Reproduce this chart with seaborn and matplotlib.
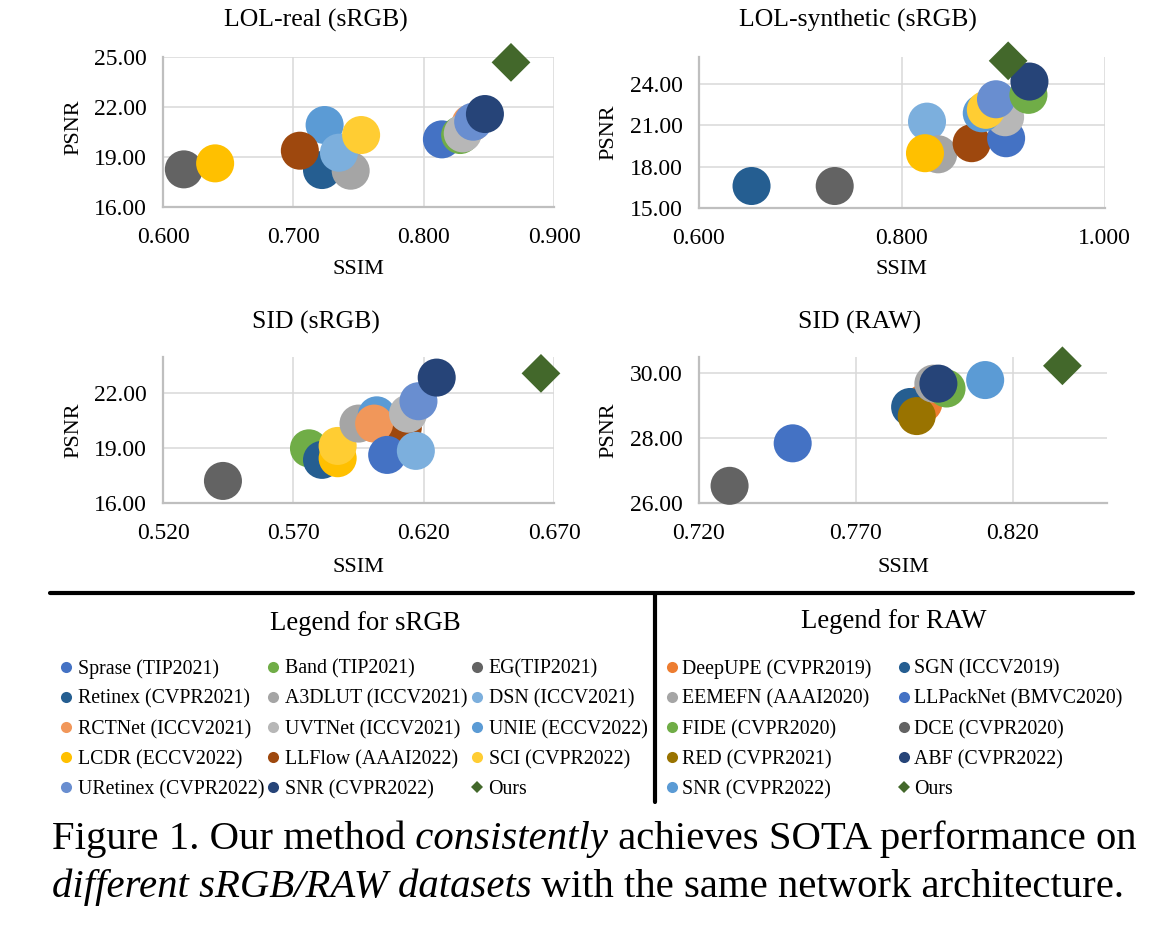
import matplotlib
matplotlib.use('Agg')
import matplotlib.pyplot as plt
from matplotlib.lines import Line2D
from matplotlib.ticker import FormatStrFormatter
import seaborn as sns
import pandas as pd

# ---- legend definitions ----
srgb_methods = ['Sprase', 'Band', 'EG', 'Retinex', 'A3DLUT', 'DSN', 'RCTNet', 'UVTNet',
                'UNIE', 'LCDR', 'LLFlow', 'SCI', 'URetinex', 'SNR', 'Ours']
srgb_labels = ['Sprase (TIP2021)', 'Band (TIP2021)', 'EG(TIP2021)', 'Retinex (CVPR2021)',
               'A3DLUT (ICCV2021)', 'DSN (ICCV2021)', 'RCTNet (ICCV2021)', 'UVTNet (ICCV2021)',
               'UNIE (ECCV2022)', 'LCDR (ECCV2022)', 'LLFlow (AAAI2022)', 'SCI (CVPR2022)',
               'URetinex (CVPR2022)', 'SNR (CVPR2022)', 'Ours']
srgb_colors = ['#4472C4', '#70AD47', '#636363', '#255E91', '#A5A5A5', '#7CAFDD', '#F1975A',
               '#B7B7B7', '#5B9BD5', '#FFC000', '#9E480E', '#FFCD33', '#698ED0', '#264478',
               '#43682B']

raw_methods = ['DeepUPE', 'SGN', 'EEMEFN', 'LLPackNet', 'FIDE', 'DCE', 'RED', 'ABF', 'SNR', 'Ours']
raw_labels = ['DeepUPE (CVPR2019)', 'SGN (ICCV2019)', 'EEMEFN (AAAI2020)', 'LLPackNet (BMVC2020)',
              'FIDE (CVPR2020)', 'DCE (CVPR2020)', 'RED (CVPR2021)', 'ABF (CVPR2022)',
              'SNR (CVPR2022)', 'Ours']
raw_colors = ['#ED7D31', '#255E91', '#A5A5A5', '#4472C4', '#70AD47', '#636363', '#997300',
              '#264478', '#5B9BD5', '#43682B']

# ---- panel data (listed in drawing order) ----
lol_real_method = ['EG', 'LCDR', 'UNIE', 'Retinex', 'LLFlow', 'A3DLUT', 'DSN', 'SCI', 'Sprase',
                   'Band', 'RCTNet', 'UVTNet', 'URetinex', 'SNR', 'Ours']
lol_real_ssim = [0.616, 0.640, 0.724, 0.722, 0.705, 0.744, 0.735, 0.752, 0.814,
                 0.828, 0.836, 0.830, 0.838, 0.847, 0.867]
lol_real_psnr = [18.24, 18.60, 20.90, 18.20, 19.36, 18.16, 19.24, 20.30, 20.04,
                 20.30, 21.00, 20.40, 21.10, 21.56, 24.66]

lol_syn_method = ['Retinex', 'EG', 'DSN', 'A3DLUT', 'LCDR', 'LLFlow', 'Sprase', 'UVTNet', 'UNIE',
                  'SCI', 'URetinex', 'Band', 'SNR', 'Ours']
lol_syn_ssim = [0.652, 0.734, 0.825, 0.836, 0.823, 0.869, 0.903, 0.902, 0.879,
                0.883, 0.893, 0.925, 0.926, 0.905]
lol_syn_psnr = [16.58, 16.58, 21.27, 18.89, 18.97, 19.70, 20.06, 21.59, 21.88,
                22.13, 22.90, 23.22, 24.19, 25.70]

sid_srgb_method = ['EG', 'Band', 'Retinex', 'LCDR', 'SCI', 'LLFlow', 'A3DLUT', 'UNIE', 'RCTNet',
                   'Sprase', 'UVTNet', 'DSN', 'URetinex', 'SNR', 'Ours']
sid_srgb_ssim = [0.543, 0.576, 0.581, 0.587, 0.587, 0.612, 0.595, 0.602, 0.601,
                 0.606, 0.614, 0.617, 0.618, 0.625, 0.665]
sid_srgb_psnr = [17.22, 19.00, 18.37, 18.46, 19.13, 20.13, 20.35, 20.80, 20.35,
                 18.64, 20.89, 18.86, 21.57, 22.86, 23.09]

sid_raw_method = ['DeepUPE', 'SGN', 'RED', 'EEMEFN', 'FIDE', 'ABF', 'SNR', 'DCE', 'LLPackNet', 'Ours']
sid_raw_ssim = [0.7915, 0.7873, 0.7894, 0.7947, 0.7989, 0.7963, 0.8112, 0.7298, 0.7499, 0.8358]
sid_raw_psnr = [29.06, 28.95, 28.67, 29.67, 29.52, 29.67, 29.78, 26.52, 27.83, 30.22]

# caption pieces: (text, italic?)
caption_line1 = [('Figure 1. Our method', False), (' consistently', True),
                 (' achieves SOTA performance on', False)]
caption_line2 = [('different sRGB/RAW datasets', True),
                 (' with the same network architecture.', False)]

# ---- style ----
sns.set_theme(style='white')
plt.rcParams['font.family'] = ['Liberation Serif', 'DejaVu Serif']
plt.rcParams['text.color'] = 'black'

W, H = 1159, 931
fig = plt.figure(figsize=(W / 100, H / 100), dpi=100)
fig.patch.set_facecolor('white')


def fx(px):
    return px / W


def fy(py):
    return 1 - py / H


def draw_panel(rect, methods, ssim, psnr, names, colors, xlim, xticks, ylim, yticks,
               title, title_xy, xlabel_xy, ylabel_xy):
    left, top, right, bottom = rect
    ax = fig.add_axes([fx(left), fy(bottom), (right - left) / W, (bottom - top) / H])
    df = pd.DataFrame({'method': methods, 'SSIM': ssim, 'PSNR': psnr})
    palette = dict(zip(names, colors))
    markers = {m: ('D' if m == 'Ours' else 'o') for m in names}
    sizes = {m: (390 if m == 'Ours' else 750) for m in names}
    sns.scatterplot(data=df, x='SSIM', y='PSNR', hue='method', palette=palette,
                    style='method', markers=markers, size='method', sizes=sizes,
                    linewidth=0, alpha=1, legend=False, ax=ax, clip_on=False, zorder=3)
    ax.set_xlim(*xlim)
    ax.set_ylim(*ylim)
    ax.set_xticks(xticks)
    ax.set_yticks(yticks)
    ax.xaxis.set_major_formatter(FormatStrFormatter('%.3f'))
    ax.yaxis.set_major_formatter(FormatStrFormatter('%.2f'))
    ax.tick_params(axis='both', length=0, labelsize=17, colors='black')
    ax.tick_params(axis='x', pad=14.5)
    ax.tick_params(axis='y', pad=11.5)
    ax.grid(True, color='#D9D9D9', linewidth=1.1)
    ax.set_axisbelow(True)
    ax.set_facecolor('none')
    for s in ['top', 'right']:
        ax.spines[s].set_visible(False)
    for s in ['left', 'bottom']:
        ax.spines[s].set_color('#BFBFBF')
        ax.spines[s].set_linewidth(1.6)
    ax.set_xlabel('')
    ax.set_ylabel('')
    fig.text(fx(title_xy[0]), fy(title_xy[1]), title, ha='center', va='center', fontsize=18.5)
    fig.text(fx(xlabel_xy[0]), fy(xlabel_xy[1]), 'SSIM', ha='center', va='center', fontsize=16)
    fig.text(fx(ylabel_xy[0]), fy(ylabel_xy[1]), 'PSNR', ha='center', va='center',
             fontsize=16, rotation=90)
    return ax


draw_panel((163, 56.7, 554, 206.7), lol_real_method, lol_real_ssim, lol_real_psnr,
           srgb_methods, srgb_colors, (0.6, 0.9), [0.6, 0.7, 0.8, 0.9], (16, 25), [16, 19, 22, 25],
           'LOL-real (sRGB)', (316, 20), (358, 270), (74, 127))
draw_panel((698.8, 56.7, 1104.5, 207.7), lol_syn_method, lol_syn_ssim, lol_syn_psnr,
           srgb_methods, srgb_colors, (0.6, 1.0), [0.6, 0.8, 1.0], (15, 26), [15, 18, 21, 24],
           'LOL-synthetic (sRGB)', (858, 20), (901, 270), (609, 132))
draw_panel((163, 356.7, 554, 503.3), sid_srgb_method, sid_srgb_ssim, sid_srgb_psnr,
           srgb_methods, srgb_colors, (0.52, 0.67), [0.52, 0.57, 0.62, 0.67], (16, 24), [16, 19, 22],
           'SID (sRGB)', (316, 322), (358, 567), (74, 430))
last_ax = draw_panel((698.8, 356.7, 1107, 502.7), sid_raw_method, sid_raw_ssim, sid_raw_psnr,
                     raw_methods, raw_colors, (0.72, 0.85), [0.72, 0.77, 0.82], (26, 30.5),
                     [26, 28, 30], 'SID (RAW)', (860, 322), (903, 567), (609, 430))


# ---- legends ----
def legend_handles(names, colors):
    hs = []
    for m, c in zip(names, colors):
        if m == 'Ours':
            hs.append(Line2D([], [], ls='none', marker='D', markersize=6.5,
                             markerfacecolor=c, markeredgewidth=0))
        else:
            hs.append(Line2D([], [], ls='none', marker='o', markersize=8,
                             markerfacecolor=c, markeredgewidth=0))
    return hs


srgb_h = legend_handles(srgb_methods, srgb_colors)
order = [r * 3 + c for c in range(3) for r in range(5)]
fig.legend([srgb_h[i] for i in order], [srgb_labels[i] for i in order], ncol=3,
           loc='upper left', bbox_to_anchor=(fx(60), fy(659)), frameon=False, fontsize=14.3,
           handlelength=0.6, handletextpad=0.3, columnspacing=0.15, labelspacing=0.55,
           borderpad=0, borderaxespad=0)

raw_h = legend_handles(raw_methods, raw_colors)
order = [r * 2 + c for c in range(2) for r in range(5)]
fig.legend([raw_h[i] for i in order], [raw_labels[i] for i in order], ncol=2,
           loc='upper left', bbox_to_anchor=(fx(666), fy(659)), frameon=False, fontsize=14.3,
           handlelength=0.6, handletextpad=0.2, columnspacing=1.36, labelspacing=0.55,
           borderpad=0, borderaxespad=0)

fig.text(fx(365.5), fy(623), 'Legend for sRGB', ha='center', va='center', fontsize=19.4)
fig.text(fx(894), fy(622), 'Legend for RAW', ha='center', va='center', fontsize=19.4)

# separator lines
fig.add_artist(Line2D([fx(50), fx(1133)], [fy(593), fy(593)], transform=fig.transFigure,
                      color='black', linewidth=3))
fig.add_artist(Line2D([fx(655), fx(655)], [fy(593), fy(802)], transform=fig.transFigure,
                      color='black', linewidth=3))


# ---- caption (pieces chained one after the other) ----
def caption_line(pieces, baseline_px):
    first, italic = pieces[0]
    prev = fig.text(fx(51.7), fy(baseline_px), first, ha='left', va='baseline', fontsize=29.3,
                    style='italic' if italic else 'normal')
    for text, italic in pieces[1:]:
        prev = last_ax.annotate(text, xy=(1, 0), xycoords=prev, ha='left', va='bottom',
                                fontsize=29.3, style='italic' if italic else 'normal',
                                annotation_clip=False)


caption_line(caption_line1, 849.3)
caption_line(caption_line2, 897.3)

fig.savefig('out.png', dpi=100, facecolor='white')
